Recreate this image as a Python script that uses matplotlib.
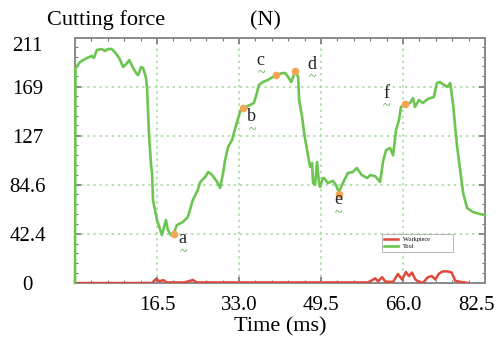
import numpy as np
import matplotlib
matplotlib.use("Agg")
import matplotlib.pyplot as plt
from matplotlib.ticker import AutoMinorLocator
import matplotlib.transforms as mtransforms

# Tool force (green)
tool_t = [0.0, 0.1, 1.0, 2.4, 3.4, 3.8, 4.4, 5.4, 6.0, 6.6, 7.4, 8.0, 8.9, 9.7, 10.5,
          10.9, 11.7, 12.3, 12.7, 13.3, 13.7, 14.3, 14.5, 14.9, 15.3, 15.5, 15.7, 16.5,
          17.5, 18.3, 18.7, 19.3, 19.9, 20.5, 21.7, 22.7, 23.7, 24.7, 25.2, 26.2, 26.8,
          27.6, 28.6, 29.2, 29.8, 30.2, 30.8, 31.6, 32.6, 33.2, 33.8, 35.2, 36.0, 36.6,
          37.0, 37.8, 38.8, 39.8, 40.6, 41.7, 42.3, 42.9, 43.5, 43.9, 44.3, 44.9, 45.1,
          45.7, 46.1, 46.7, 47.3, 47.7, 47.9, 48.3, 48.7, 49.1, 49.3, 49.9, 50.1, 50.9,
          51.9, 52.5, 53.1, 53.9, 54.9, 55.9, 56.7, 57.7, 58.8, 59.4, 60.4, 61.4, 62.0,
          62.6, 63.4, 64.0, 64.6, 65.2, 65.6, 66.4, 67.4, 68.0, 68.4, 69.2, 70.0, 71.0,
          72.2, 72.8, 73.4, 74.0, 74.9, 75.5, 76.1, 76.5, 76.9, 77.5, 78.1, 78.9, 80.1,
          81.5, 82.5]
tool_f = [0.0, 185.0, 190.3, 193.8, 195.5, 193.8, 200.7, 201.5, 199.8, 201.5, 201.5, 198.9,
          193.8, 186.0, 189.5, 192.0, 185.2, 180.8, 179.1, 186.0, 185.2, 176.5, 167.9, 127.5,
          101.6, 94.7, 71.3, 54.3, 41.3, 54.3, 45.6, 41.3, 43.1, 49.9, 52.5, 56.8, 71.3,
          80.1, 87.0, 91.3, 95.6, 93.0, 87.0, 81.8, 94.7, 105.9, 117.1, 123.2, 138.7, 147.3,
          150.7, 153.3, 155.0, 163.6, 170.5, 173.1, 174.8, 177.4, 179.1, 180.8, 180.8, 177.4,
          173.1, 177.4, 182.6, 177.4, 157.6, 143.0, 129.2, 114.5, 99.9, 103.3, 86.1, 84.4,
          104.2, 86.1, 82.7, 90.4, 90.4, 86.1, 88.0, 84.4, 78.4, 86.1, 94.7, 95.6, 99.0,
          93.0, 90.4, 93.0, 92.0, 87.0, 105.0, 114.5, 116.3, 110.0, 131.8, 140.4, 151.6,
          154.2, 155.0, 159.3, 151.6, 157.6, 155.0, 158.5, 160.2, 172.2, 173.1, 171.4,
          168.8, 172.2, 153.3, 134.3, 117.1, 97.3, 77.5, 64.6, 61.1, 59.4, 58.6]

# Workpiece force (red)
work_t = [0, 15.5, 16.3, 17.0, 17.8, 18.5, 22.0, 23.7, 24.5, 59.0, 60.4, 61.0, 61.8, 62.5,
          64.0, 65.0, 65.8, 66.6, 67.2, 67.8, 68.5, 69.0, 70.0, 71.0, 71.8, 72.5, 73.2,
          74.0, 75.0, 75.8, 76.5, 77.5, 78.5, 79.0]
work_f = [0, 0, 3.5, 1.5, 2.5, 0.5, 0.5, 2.6, 0.5, 0.5, 4.0, 1.5, 5.0, 1.0, 1.0, 7.8, 3.0,
          9.5, 6.0, 9.0, 3.0, 1.5, 0.0, 5.0, 6.0, 3.0, 8.0, 10.0, 10.0, 9.0, 2.0, 1.0, 0.5, 0.0]

# Marked points a-f
mark_names = ["a", "b", "c", "d", "e", "f"]
mark_t = [20.0, 33.8, 40.5, 44.2, 53.1, 66.5]
mark_f = [42.0, 150.7, 179.1, 183.0, 76.5, 154.5]
label_t = [21.7, 35.6, 37.4, 47.6, 52.9, 62.6]
label_f = [38.5, 143.0, 192.0, 188.5, 71.5, 163.5]

xticks = [16.5, 33.0, 49.5, 66.0, 82.5]
xtick_labels = ["16.5", "33.0", "49.5", "66.0", "82.5"]
yticks = [0, 42.4, 84.6, 127, 169, 211]
ytick_labels = ["0", "42.4", "84.6", "127", "169", "211"]

plt.rcParams['font.family'] = ['Liberation Serif', 'DejaVu Serif']

fig = plt.figure(figsize=(4.98, 3.40), dpi=100)
ax = fig.add_axes([0.1506, 0.1676, 0.8233, 0.7206])

ax.plot(work_t, work_f, color="#e0483c", lw=1.8, label="Workpiece", zorder=3)
ax.plot(tool_t, tool_f, color="#6cc550", lw=1.9, label="Tool", zorder=4, clip_on=False)
ax.plot(mark_t, mark_f, "o", color="#f2a552", ms=4.5, zorder=5)

for name, tx, fy in zip(mark_names, label_t, label_f):
    ax.text(tx, fy, name, fontsize=13, ha="center", va="center", color="#222222", zorder=6)
    ax.annotate("~", (tx, fy), xytext=(0.5, -10), textcoords="offset points",
                fontsize=10, ha="center", va="center", color="#55aa44", zorder=6)

ax.set_xlim(0, 82.5)
ax.set_ylim(0, 211)
ax.set_xticks(xticks)
ax.set_xticklabels(xtick_labels, fontsize=15)
ax.set_yticks(yticks)
ax.set_yticklabels(ytick_labels, fontsize=15)
for lab in ax.get_yticklabels():
    lab.set_horizontalalignment("center")
ax.xaxis.set_minor_locator(AutoMinorLocator(5))
ax.yaxis.set_minor_locator(AutoMinorLocator(5))
ax.tick_params(which="both", direction="in", top=True, right=True, color="#777777")
ax.tick_params(which="major", length=4, width=1.2)
ax.tick_params(which="minor", length=2.5, width=0.8)
ax.tick_params(axis="y", pad=34)
ax.tick_params(axis="x", pad=9)

# nudge end labels like the original
last = ax.get_xticklabels()[-1]
last.set_transform(last.get_transform() + mtransforms.ScaledTranslation(-9 / 100, 0, fig.dpi_scale_trans))
top = ax.get_yticklabels()[-1]
top.set_transform(top.get_transform() + mtransforms.ScaledTranslation(0, -6 / 100, fig.dpi_scale_trans))

ax.grid(True, which="major", color="#9fd99a", linestyle=(0, (1.5, 2.5)), lw=1.1)
for s in ax.spines.values():
    s.set_color("#8a8a8a")
    s.set_linewidth(1.4)

ax.set_xlabel("Time (ms)", fontsize=16, labelpad=2)
fig.text(0.094, 0.94, "Cutting force", fontsize=16, va="center", ha="left")
fig.text(0.502, 0.94, "(N)", fontsize=16, va="center", ha="left")

leg = ax.legend(loc="lower left", bbox_to_anchor=(0.74, 0.115, 0.19, 0.09), fontsize=4.5,
                frameon=True, fancybox=False, handlelength=2.2, borderpad=0.4,
                labelspacing=0.3, mode="expand")
leg.get_frame().set_edgecolor("#999999")
leg.get_frame().set_linewidth(0.6)

fig.savefig("out.png", dpi=100)
